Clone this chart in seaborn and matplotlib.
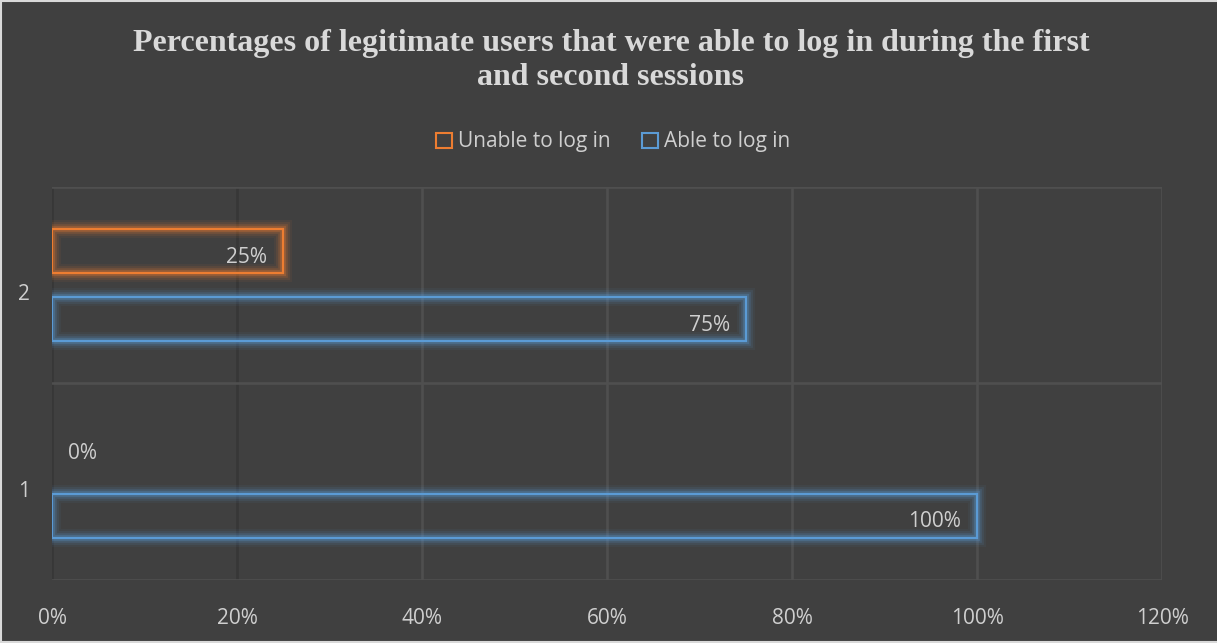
import matplotlib
matplotlib.use("Agg")
import matplotlib.pyplot as plt
import seaborn as sns
import pandas as pd
from matplotlib import patheffects as pe
from matplotlib.patches import Patch
from matplotlib.lines import Line2D
from matplotlib.transforms import ScaledTranslation, offset_copy

# Sessions listed top to bottom
sessions = ["2", "1"]
series = ["Unable to log in", "Able to log in"]
unable = [25, 0]
able = [75, 100]
x_ticks = [0, 20, 40, 60, 80, 100, 120]

colors = ["#ED7D31", "#5B9BD5"]
BG = "#404040"
GRID = "#4f4f4f"
GRID_DARK = "#373737"
TEXT = "#cfcfcf"
FS = 15

df = pd.DataFrame({
    "Session": sessions * 2,
    "Status": [series[0]] * len(sessions) + [series[1]] * len(sessions),
    "Percent": unable + able,
})

sns.set_theme(style="dark", rc={
    "figure.facecolor": BG,
    "axes.facecolor": BG,
    "savefig.facecolor": BG,
})
plt.rcParams["font.family"] = ["Open Sans", "DejaVu Sans"]

fig = plt.figure(figsize=(12.17, 6.43), dpi=100)
fig.patch.set_facecolor(BG)
ax = fig.add_axes([0.04273, 0.09798, 0.91208, 0.6112])
ax.set_facecolor(BG)

sns.barplot(data=df, y="Session", x="Percent", hue="Status",
            order=sessions, hue_order=series, palette=colors,
            orient="h", width=0.69, fill=False, linewidth=1.6,
            legend=False, errorbar=None, ax=ax)

bar_h = 0.225
values = {series[0]: unable, series[1]: able}
for container, name, col in zip(ax.containers, series, colors):
    for bar, val in zip(container, values[name]):
        cy = bar.get_y() + bar.get_height() / 2
        bar.set_y(cy - bar_h / 2)
        bar.set_height(bar_h)
        bar.set_edgecolor(col)
        bar.set_facecolor("none")
        bar.set_path_effects([
            pe.Stroke(linewidth=13, foreground=col, alpha=0.06),
            pe.Stroke(linewidth=10, foreground=col, alpha=0.10),
            pe.Stroke(linewidth=7, foreground=col, alpha=0.16),
            pe.Stroke(linewidth=4.5, foreground=col, alpha=0.26),
            pe.Normal(),
        ])
        # a zero-length bar has no visible outline
        bar.set_visible(val > 0)
        # value label just inside the bar end
        if val > 0:
            tr = offset_copy(ax.transData, fig=fig, x=-16, y=-6, units="dots")
            ax.text(val, cy, f"{val}%", transform=tr, ha="right", va="center",
                    color=TEXT, fontsize=FS)
        else:
            tr = offset_copy(ax.transData, fig=fig, x=16, y=-6, units="dots")
            ax.text(val, cy, f"{val}%", transform=tr, ha="left", va="center",
                    color=TEXT, fontsize=FS)

ax.set_xlim(0, 120)
ax.set_ylim(len(sessions) - 0.5, -0.5)
ax.set_xticks(x_ticks)
ax.set_xticklabels([f"{t}%" for t in x_ticks])
ax.set_xlabel("")
ax.set_ylabel("")
for s in ax.spines.values():
    s.set_visible(False)

# grid: vertical lines at each tick, horizontal lines at category boundaries
ax.set_axisbelow(True)
for t in x_ticks:
    c = GRID_DARK if t in (0, 20) else GRID
    ax.axvline(t, color=c, lw=1.9, zorder=0.5)
for yb in [-0.5 + i for i in range(len(sessions) + 1)]:
    ax.axhline(yb, color=GRID, lw=1.9, zorder=0.5)

ax.tick_params(axis="x", length=0, pad=20, labelsize=FS, labelcolor=TEXT)
ax.tick_params(axis="y", length=0, pad=16, labelsize=FS, labelcolor=TEXT)
for lab in ax.get_yticklabels():
    lab.set_transform(lab.get_transform() + ScaledTranslation(0, -0.07, fig.dpi_scale_trans))

fig.text(0.502, 1 - 60.5 / 643,
         "Percentages of legitimate users that were able to log in during the first\nand second sessions",
         ha="center", va="center", fontsize=23, fontweight="bold",
         family="Liberation Serif", color="#d9d9d9", linespacing=1.2)

handles = [Patch(facecolor="none", edgecolor=c, linewidth=1.5, label=n)
           for n, c in zip(series, colors)]
fig.legend(handles=handles, loc="center", bbox_to_anchor=(0.504, 1 - 142 / 643),
           ncol=2, frameon=False, fontsize=FS, labelcolor=TEXT,
           handlelength=0.75, handleheight=0.75, handletextpad=0.3, columnspacing=1.5)

# light frame edge on left, top and bottom
for xs, ys in [([0.001, 0.001], [0, 1]), ([0, 1], [0.998, 0.998]), ([0, 1], [0.002, 0.002])]:
    fig.add_artist(Line2D(xs, ys, transform=fig.transFigure, color="#d9d9d9", lw=1.5))

fig.savefig("out.png", dpi=100, facecolor=BG)
